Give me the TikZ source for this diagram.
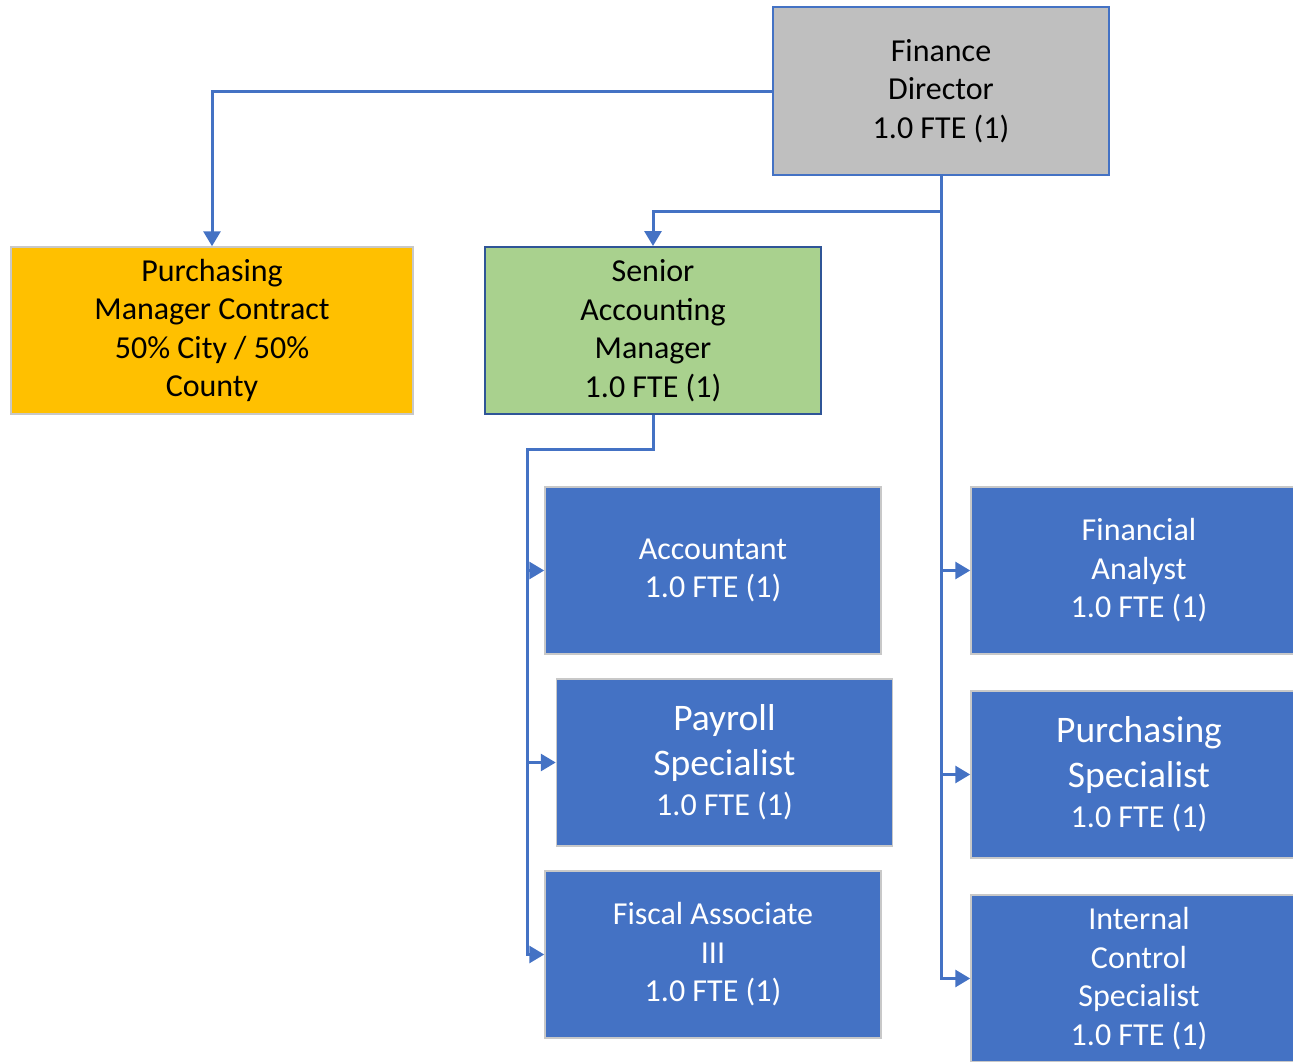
\documentclass[tikz,border=0pt]{standalone}
\usepackage{fontspec}
\setmainfont{Carlito}
\usetikzlibrary{arrows.meta}
\definecolor{bblue}{HTML}{4472C4}
\definecolor{dblue}{HTML}{2F5597}
\definecolor{dirgray}{HTML}{BFBFBF}
\definecolor{edgegray}{HTML}{C8C8C8}
\definecolor{gold}{HTML}{FFC000}
\definecolor{lgreen}{HTML}{A9D18E}
\newcommand{\bigline}[1]{{\fontsize{37.5}{45}\selectfont #1}}
\begin{document}
\begin{tikzpicture}[x=1pt,y=-1pt,
  box/.style={rectangle, line width=1.5pt, minimum width=336pt, minimum height=167pt,
    align=center, inner sep=0pt, font=\fontsize{32}{38.5}\selectfont},
  bluebox/.style={box, fill=bblue, draw=edgegray, text=white},
  conn/.style={draw=bblue, line width=3pt, line join=miter},
  arr/.style={conn, -{Triangle[length=15pt,width=17pt]}}]
\useasboundingbox (0,0) rectangle (1293,1061);
\clip (0,0) rectangle (1293,1061);

\node[box, fill=dirgray, draw=bblue, line width=2pt, minimum height=168pt] (fd) at (941,91) {Finance\\Director\\1.0 FTE (1)};
\node[box, fill=gold, draw=edgegray, minimum width=402pt] (pm) at (212,330.5) {Purchasing\\Manager Contract\\50\% City / 50\%\\County};
\node[box, fill=lgreen, draw=dblue, line width=2pt] (sam) at (653,330.5) {Senior\\Accounting\\Manager\\1.0 FTE (1)};

\node[bluebox] (acc) at (713,570.5) {Accountant\\1.0 FTE (1)};
\node[bluebox] (pay) at (724.5,762.5) {\bigline{Payroll}\\[6pt]\bigline{Specialist}\\[2pt]1.0 FTE (1)};
\node[bluebox] (fis) at (713,954.5) {Fiscal Associate\\III\\1.0 FTE (1)};

\node[bluebox] (fa) at (1139,570.5) {Financial\\Analyst\\1.0 FTE (1)};
\node[bluebox] (ps) at (1139,774.5) {\bigline{Purchasing}\\[6pt]\bigline{Specialist}\\[2pt]1.0 FTE (1)};
\node[bluebox] (ics) at (1139,978.5) {Internal\\Control\\Specialist\\1.0 FTE (1)};

\coordinate (j1) at (941,211);
\coordinate (k1) at (653,449);
\coordinate (k2) at (527,449);

\draw[arr] (fd.west) -| (pm.north);
\draw[arr] (fd.south) -- (j1) -| (sam.north);
\draw[arr] (fd.south) |- (fa.west);
\draw[arr] (fd.south) |- (ps.west);
\draw[arr] (fd.south) |- (ics.west);

\draw[arr] (sam.south) -- (k1) -- (k2) |- (acc.west);
\draw[arr] (sam.south) -- (k1) -- (k2) |- (pay.west);
\draw[arr] (sam.south) -- (k1) -- (k2) |- (fis.west);
\end{tikzpicture}
\end{document}
